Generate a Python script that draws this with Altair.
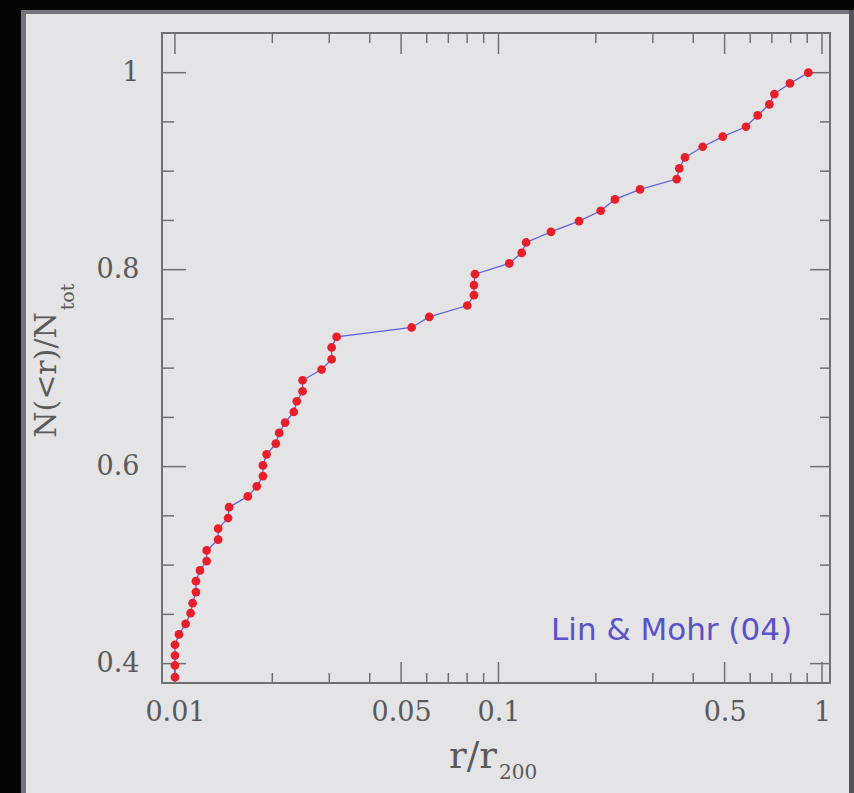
import altair as alt
import pandas as pd

# Cumulative fraction of cluster galaxies inside radius r (in units of r200)
r_inner = [0.0100, 0.0100, 0.0100, 0.0100, 0.01029, 0.01079, 0.01118, 0.01134,
           0.01161, 0.01161, 0.01195, 0.01253, 0.01253, 0.0136, 0.0136, 0.0146,
           0.0147, 0.0168, 0.0179, 0.0187, 0.0187, 0.0192, 0.0205, 0.0210,
           0.0219, 0.0233, 0.0238, 0.0248, 0.0248, 0.0284, 0.0305, 0.0305, 0.0316]
n_inner = [0.3862, 0.3981, 0.4082, 0.4191, 0.4296, 0.4404, 0.4512, 0.4614,
           0.4726, 0.4837, 0.4946, 0.5041, 0.5149, 0.5258, 0.5370, 0.5478,
           0.5589, 0.5698, 0.5800, 0.5904, 0.6013, 0.6125, 0.6234, 0.6342,
           0.6447, 0.6555, 0.6664, 0.6765, 0.6877, 0.6986, 0.7090, 0.7210, 0.7317]
r_outer = [0.0539, 0.0611, 0.0801, 0.0840, 0.0840, 0.0846, 0.108, 0.118,
           0.1217, 0.1453, 0.1774, 0.207, 0.229, 0.2738, 0.3555, 0.3622,
           0.3771, 0.4278, 0.4932, 0.5821, 0.6327, 0.6874, 0.7123, 0.796, 0.907]
n_outer = [0.7413, 0.7520, 0.7636, 0.7741, 0.7843, 0.7954, 0.8063, 0.8171,
           0.8276, 0.8384, 0.8493, 0.8598, 0.8713, 0.8815, 0.8920, 0.9028,
           0.9140, 0.9248, 0.9350, 0.9451, 0.9567, 0.9679, 0.9783, 0.9892, 1.0000]

# Axis tick positions
x_major = [0.01, 0.05, 0.1, 0.5, 1.0]
x_minor = [0.02, 0.03, 0.04, 0.06, 0.07, 0.08, 0.09,
           0.2, 0.3, 0.4, 0.6, 0.7, 0.8, 0.9]
y_major = [0.4, 0.6, 0.8, 1.0]
y_minor = [0.45, 0.5, 0.55, 0.65, 0.7, 0.75, 0.85, 0.9, 0.95]

W, H = 668, 650
PANEL = "#e4e3e6"
INK = "#5a5a5a"
FRAME = "#707070"

xscale = alt.Scale(type="log", domain=[0.00912, 1.0585], nice=False)
yscale = alt.Scale(domain=[0.3803, 1.0403], nice=False, zero=False)

df = pd.DataFrame({"r": r_inner + r_outer, "n": n_inner + n_outer})
df["k"] = range(len(df))

# labelled axes only; the inward ticks are drawn as rules below
x_axis = alt.Axis(values=x_major, format="~g", labelFont="DejaVu Serif",
                  labelFontSize=27, labelColor=INK, labelPadding=16,
                  ticks=False, tickSize=0, domain=False, grid=False,
                  labelFlush=False, title=None)
y_axis = alt.Axis(values=y_major, format="~g", labelFont="DejaVu Serif",
                  labelFontSize=27, labelColor=INK, labelPadding=23,
                  ticks=False, tickSize=0, domain=False, grid=False,
                  labelFlush=False, title=None)

X = dict(field="r", type="quantitative", scale=xscale, axis=x_axis)
Y = dict(field="n", type="quantitative", scale=yscale, axis=y_axis)

one = pd.DataFrame({"a": [0]})


def band(x, x2, y, y2, color):
    return alt.Chart(one).mark_rect(color=color).encode(
        x=alt.value(x), x2=alt.value(x2), y=alt.value(y), y2=alt.value(y2))


# dark surround of the slide panel
edges = [
    band(-162, -141, -33, 760, "#050505"),
    band(-141, -136, -19, 760, "#77737c"),
    band(-162, 692, -33, -23, "#050505"),
    band(-141, 692, -23, -19, "#77737c"),
    band(687, 692, -23, 760, "#55535a"),
]


def xticks(values, length):
    d = pd.DataFrame({"r": values})
    bottom = alt.Chart(d).mark_rule(color=FRAME, strokeWidth=1.5).encode(
        x=alt.X(**X), y=alt.value(H), y2=alt.value(H - length))
    top = alt.Chart(d).mark_rule(color=FRAME, strokeWidth=1.5).encode(
        x=alt.X(**X), y=alt.value(0), y2=alt.value(length))
    return [bottom, top]


def yticks(values, left_len, right_len):
    d = pd.DataFrame({"n": values})
    left = alt.Chart(d).mark_rule(color=FRAME, strokeWidth=1.5).encode(
        y=alt.Y(**Y), x=alt.value(0), x2=alt.value(left_len))
    right = alt.Chart(d).mark_rule(color=FRAME, strokeWidth=1.5).encode(
        y=alt.Y(**Y), x=alt.value(W), x2=alt.value(W - right_len))
    return [left, right]


ticks = (xticks(x_major, 21) + xticks(x_minor, 10)
         + yticks(y_major, 24, 20) + yticks(y_minor, 12, 10))

line = alt.Chart(df).mark_line(color="#6262de", strokeWidth=1.3).encode(
    x=alt.X(**X), y=alt.Y(**Y), order="k:Q",
)

dots = alt.Chart(df).mark_circle(size=76, color="#e81e28", opacity=1).encode(
    x=alt.X(**X), y=alt.Y(**Y),
)


def label(text, x, y, size, font="DejaVu Serif", color=INK, angle=0,
          align="left"):
    kw = dict(font=font, fontSize=size, color=color, align=align,
              baseline="alphabetic")
    if angle:
        kw["angle"] = angle
    return alt.Chart(pd.DataFrame({"t": [text]})).mark_text(**kw).encode(
        text="t:N", x=alt.value(x), y=alt.value(y))


texts = [
    label("r/r", 287, 735, 37),
    label("200", 337, 746, 20),
    label("N(<r)/N", -106, 342, 30, angle=270, align="center"),
    label("tot", -88, 264, 19, angle=270, align="center"),
    label("Lin & Mohr (04)", 389, 607, 31, font="DejaVu Sans",
          color="#5a52c8"),
]

chart = alt.layer(*edges, *ticks, line, dots, *texts).properties(
    width=W, height=H,
    autosize=alt.AutoSizeParams(type="none"),
    padding={"left": 162, "top": 33, "right": 24, "bottom": 110},
    background=PANEL,
).configure_view(stroke=FRAME, strokeWidth=2)

chart.save("out.html", embed_options={"renderer": "svg", "actions": False})
